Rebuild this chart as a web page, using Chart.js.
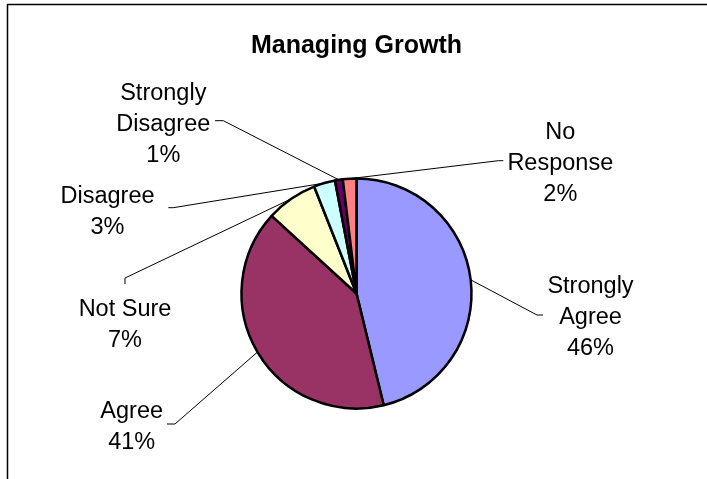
<!DOCTYPE html>
<html>
<head>
<meta charset="utf-8">
<script src="https://cdn.jsdelivr.net/npm/chart.js@4/dist/chart.umd.min.js"></script>
<style>
  html, body { margin: 0; padding: 0; background: #ffffff; }
  canvas { display: block; }
</style>
</head>
<body>
<canvas id="c" width="707" height="479"></canvas>
<script>
// ---- data ----
const categories = ['Strongly Agree', 'Agree', 'Not Sure', 'Disagree', 'Strongly Disagree', 'No Response'];
const labelLines = [['Strongly', 'Agree'], ['Agree'], ['Not Sure'], ['Disagree'], ['Strongly', 'Disagree'], ['No', 'Response']];
const values = [46.2, 40.6, 7.2, 3.0, 1.1, 1.9];
const chartTitle = 'Managing Growth';

// ---- styles / layout (not data) ----
const colors = ['#9999FF', '#993366', '#FFFFCC', '#CCFFFF', '#660066', '#FF8080'];
// label text centre and leader-line knee points, relative to the pie centre
const labelLayout = [
  { tx: 234,    ty: -6.8,   knees: [[180.5, 21.5], [186.5, 21.5]] },
  { tx: -224.8, ty: 118.2,  knees: [[-181.5, 130.5], [-189.5, 130.5]] },
  { tx: -231.5, ty: 16.5,   knees: [[-231.5, -15.5], [-231.5, -9.5]] },
  { tx: -249,   ty: -96.8,  knees: [[-183.2, -85.8], [-188.2, -85.8]] },
  { tx: -193.2, ty: -200.2, knees: [[-133.2, -172.8], [-141.5, -172.8]] },
  { tx: 203.8,  ty: -160.5, knees: [[141.8, -132.8], [146.8, -132.8]] }
];
const FONT = "'Liberation Sans', Arial, sans-serif";
const LABEL_SIZE = 23.5;
const LINE_GAP = 31;

const framePlugin = {
  id: 'frame',
  beforeDraw(chart) {
    const ctx = chart.ctx;
    ctx.save();
    ctx.fillStyle = '#ffffff';
    ctx.fillRect(0, 0, chart.width, chart.height);
    ctx.strokeStyle = '#000000';
    ctx.lineWidth = 1.5;
    ctx.beginPath();
    ctx.moveTo(7.5, chart.height);
    ctx.lineTo(7.5, 4.5);
    ctx.lineTo(chart.width, 4.5);
    ctx.stroke();
    ctx.restore();
  }
};

function total() { return values.reduce((a, b) => a + b, 0); }

const labelPlugin = {
  id: 'pieLabels',
  beforeDatasetsDraw(chart) {
    const ctx = chart.ctx;
    const meta = chart.getDatasetMeta(0);
    ctx.save();
    ctx.strokeStyle = '#000000';
    ctx.lineWidth = 1;
    meta.data.forEach((arc, i) => {
      const p = arc.getProps(['x', 'y', 'startAngle', 'endAngle', 'outerRadius'], true);
      const mid = (p.startAngle + p.endAngle) / 2;
      const ex = p.x + Math.cos(mid) * p.outerRadius;
      const ey = p.y + Math.sin(mid) * p.outerRadius;
      const L = labelLayout[i];
      ctx.beginPath();
      ctx.moveTo(ex, ey);
      L.knees.forEach(k => ctx.lineTo(p.x + k[0], p.y + k[1]));
      ctx.stroke();
    });
    ctx.restore();
  },
  afterDatasetsDraw(chart) {
    const ctx = chart.ctx;
    const meta = chart.getDatasetMeta(0);
    const t = total();
    ctx.save();
    ctx.fillStyle = '#000000';
    ctx.font = LABEL_SIZE + 'px ' + FONT;
    ctx.textAlign = 'center';
    ctx.textBaseline = 'middle';
    meta.data.forEach((arc, i) => {
      const p = arc.getProps(['x', 'y'], true);
      const L = labelLayout[i];
      const lines = labelLines[i].concat([Math.round(values[i] / t * 100) + '%']);
      lines.forEach((s, j) => {
        ctx.fillText(s, p.x + L.tx, p.y + L.ty + j * LINE_GAP);
      });
    });
    ctx.restore();
  }
};

new Chart(document.getElementById('c'), {
  type: 'pie',
  data: {
    labels: categories,
    datasets: [{
      data: values,
      backgroundColor: colors,
      borderColor: '#000000',
      borderWidth: 2.5,
      hoverOffset: 0
    }]
  },
  options: {
    responsive: false,
    animation: false,
    radius: 115,
    events: [],
    layout: { padding: { left: 6, right: 0, top: 0, bottom: 0 } },
    plugins: {
      legend: { display: false },
      tooltip: { enabled: false },
      title: {
        display: true,
        text: chartTitle,
        color: '#000000',
        font: { family: FONT, size: 25, weight: 'bold', lineHeight: 1.2 },
        padding: { top: 31, bottom: 47 }
      }
    }
  },
  plugins: [framePlugin, labelPlugin]
});
</script>
</body>
</html>
